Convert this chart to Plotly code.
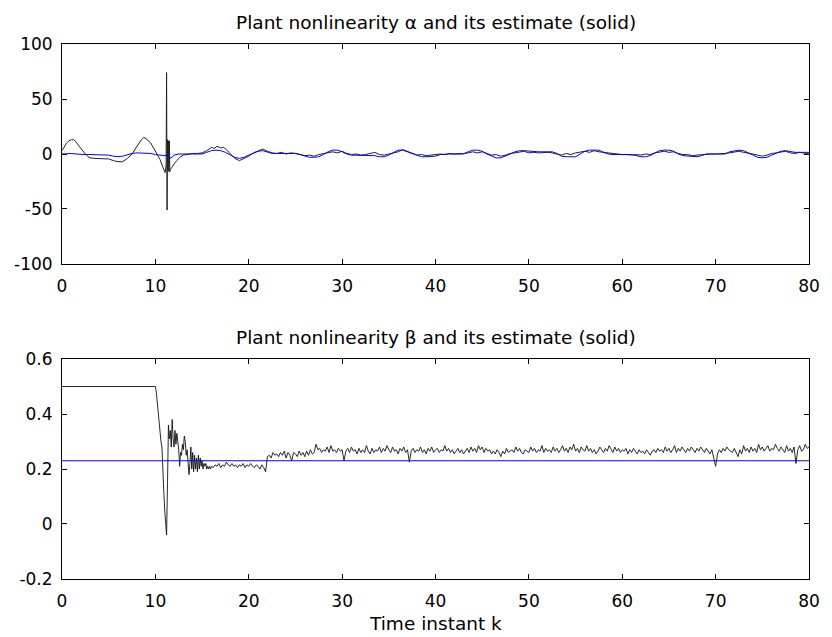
import plotly.graph_objects as go
from plotly.subplots import make_subplots

# ---------------- top panel: alpha ----------------
k_alpha_est = [0, 0.5, 1, 1.5, 2, 2.5, 3, 3.5, 4, 4.5, 5, 5.5, 6, 6.5, 7, 7.5, 8, 8.5, 9, 9.5,
               10, 10.5, 11, 11.3, 11.5, 11.8, 12, 12.5, 13, 13.5, 14, 14.5, 15, 15.5, 16, 16.5,
               17, 17.5, 18, 18.5, 19, 19.5, 20, 20.5, 21, 21.5,
               22, 22.5, 23, 23.5, 24, 24.5, 25, 25.5, 26, 26.5, 27, 27.5, 28, 28.5, 29, 29.5,
               30, 30.5, 31, 31.5, 32, 32.5, 33, 33.5, 34, 34.5, 35, 35.5, 36, 36.5, 37, 37.5,
               38, 38.5, 39, 39.5, 40, 40.5, 41, 41.5, 42, 42.5, 43, 43.5, 44, 44.5, 45, 45.5,
               46, 46.5, 47, 47.5, 48, 48.5, 49, 49.5, 50, 50.5, 51, 51.5, 52, 52.5, 53, 53.5,
               54, 54.5, 55, 55.5, 56, 56.5, 57, 57.5, 58, 58.5, 59, 59.5, 60, 60.5, 61, 61.5,
               62, 62.5, 63, 63.5, 64, 64.5, 65, 65.5, 66, 66.5, 67, 67.5, 68, 68.5, 69, 69.5,
               70, 70.5, 71, 71.5, 72, 72.5, 73, 73.5, 74, 74.5, 75, 75.5, 76, 76.5, 77, 77.5,
               78, 78.5, 79, 79.5, 80]
alpha_est = [0, 0.5, 0.5, 0, -0.5, -0.5, -0.5, -0.5, -0.5, -0.5, -1, -2, -2.5, -2, -0.5, 0.5, 1, 1, 1, 0.5,
             -0.5, -1, -1.5, -1, -4, -3, -1, 0, 0, 0, 0, 0, 0, 1.5, 3, 3.5,
             3, 1.5, -1, -3, -4, -3, -1, 1, 2.5, 3,
             1.5, 0.5, 0.5, 0.5, 0.5, 0.5, 0.5, -0.5, -2, -3, -3, -2.5, -0.5, 2, 3.5, 3.5,
             2, 0, -1, -1, -1, -1, -1, -1.5, -2.5, -2.5, -1, 1.5, 3.5, 3.5, 2, 0,
             -1.5, -2.5, -2.5, -2.5, -2, -0.5, 0, 0, 0, 0, 0, 2, 3.5, 3.5, 2.5, 0,
             -2, -3.5, -3.5, -2, 0, 2, 3, 3, 2.5, 2, 2, 2, 2, 2, 0.5, -2,
             -2.5, -2.5, -2.5, 0, 2.5, 3.5, 3.5, 3.5, 1.5, 0, -0.5, -0.5, -0.5, -0.5, -0.5, -1.5,
             -2.5, -2.5, -1.5, 1, 3, 3.5, 3.5, 2.5, 0, -1.5, -2, -2.5, -2.5, -1.5, 0, 0,
             0, 0, 0, 2, 3, 3.5, 3, 1, -1, -3, -3.5, -3, -1, 1, 2.5, 3,
             2, 1.5, 1.5, 1.5, 1.5]

k_alpha = [0, 0.25, 0.5, 0.75, 1, 1.25, 1.5, 1.75, 2, 2.25, 2.5, 2.75, 3, 3.5, 4, 4.5, 5, 5.5, 6, 6.5,
           7, 7.5, 8, 8.5, 8.75, 9, 9.5, 10, 10.5, 10.8, 11.05, 11.15, 11.2, 11.25, 11.3, 11.35, 11.4,
           11.45, 11.5, 11.55, 11.6, 11.8, 12, 12.3, 12.6, 13, 13.5, 14, 14.5, 15, 15.5, 16, 16.3,
           16.6, 17, 17.3, 17.6, 18, 18.5, 19, 19.3, 19.6, 20, 20.5, 21, 21.5,
           22, 22.5, 23, 23.5, 24, 24.5, 25, 25.5, 26, 26.5, 27, 27.5, 28, 28.5, 29, 29.5,
           30, 30.5, 31, 31.5, 32, 32.5, 33, 33.5, 34, 34.5, 35, 35.5, 36, 36.5, 37, 37.5,
           38, 38.5, 39, 39.5, 40, 40.5, 41, 41.5, 42, 42.5, 43, 43.5, 44, 44.5, 45, 45.5,
           46, 46.5, 47, 47.5, 48, 48.5, 49, 49.5, 50, 50.5, 51, 51.5, 52, 52.5, 53, 53.5,
           54, 54.5, 55, 55.5, 56, 56.5, 57, 57.5, 58, 58.5, 59, 59.5, 60, 60.5, 61, 61.5,
           62, 62.5, 63, 63.5, 64, 64.5, 65, 65.5, 66, 66.5, 67, 67.5, 68, 68.5, 69, 69.5,
           70, 70.5, 71, 71.5, 72, 72.5, 73, 73.5, 74, 74.5, 75, 75.5, 76, 76.5, 77, 77.5,
           78, 78.5, 79, 79.5, 80]
alpha = [3, 7, 10, 12, 13, 13, 11, 8, 5, 2, 0, -2, -3.5, -4, -4, -4, -4.5, -6, -7, -7,
         -4, 0, 7, 13, 15, 14, 10, 3, -5, -12, -17, -10, 74, -51, 13, -15, 12,
         -16, 12, -16, -14, -12, -9, -6, -3, -1, 0, 0.5, 0.5, 1, 3, 6, 5,
         7, 5.5, 6, 4, 0, -4, -6, -5, -4, -2, 1, 3, 4.5,
         2.5, 1, 0.5, 1.5, 0, 1, 0.5, -0.5, -1.5, -1, -2, -0.5, 0.5, 1, 2, 1,
         2.5, 0.5, -0.5, 0, -1, -0.5, 0.5, 1.5, -0.5, -1, 0, 1, 2, 4, 2.5, 0.5,
         -1, -0.5, -1.5, -1, -0.5, 0, -0.5, 0.5, 0, 0, 0.5, 1, 2, 1, 2, 0.5,
         -1, -0.5, -2, -1, 0.5, 1, 1.5, 2.5, 1, 1.5, 1, 1.5, 1.5, 1, 0, -1,
         0.5, -0.5, 1, 1.5, 2.5, 1.5, 3, 2, 1.5, 0.5, 0, -0.5, -0.5, -0.5, -1, -0.5,
         -1, 0, -0.5, 1, 2, 2.5, 1.5, 2, 0.5, -0.5, -0.5, -1.5, -1, -0.5, 0, 0,
         0, 0, 0.5, 1, 1.5, 2.5, 1.5, 1, 0, -1, -2, -1, 0.5, 1, 1.5, 2.5,
         1, 0.5, 1.5, 0.5, 0]

# ---------------- bottom panel: beta ----------------
k_beta_est = [0, 80]
beta_est = [0.23, 0.23]

k_beta_a = [0, 10.0, 10.1, 10.2, 10.3, 10.4, 10.5, 10.6, 10.7, 10.8, 10.9, 11.0, 11.1, 11.2, 11.3,
            11.4, 11.5, 11.6, 11.7, 11.8, 11.9, 12.0, 12.1, 12.2, 12.3, 12.4, 12.5, 12.6, 12.7,
            12.8, 12.9, 13.0, 13.1, 13.2, 13.3, 13.4, 13.5, 13.6, 13.7, 13.8, 13.9, 14.0, 14.1,
            14.2, 14.3, 14.4, 14.5, 14.6, 14.7, 14.8, 14.9, 15.0, 15.1, 15.2, 15.3, 15.4, 15.5,
            15.6, 15.7, 15.8, 15.9]
beta_a = [0.5, 0.5, 0.48, 0.44, 0.40, 0.36, 0.33, 0.30, 0.28, 0.22, 0.12, 0.05, -0.01, -0.04, 0.15,
          0.36, 0.31, 0.34, 0.28, 0.38, 0.31, 0.28, 0.34, 0.29, 0.33, 0.30, 0.27, 0.21, 0.26,
          0.25, 0.29, 0.27, 0.32, 0.30, 0.25, 0.27, 0.23, 0.18, 0.22, 0.28, 0.20, 0.26, 0.19,
          0.25, 0.20, 0.24, 0.19, 0.25, 0.20, 0.24, 0.21, 0.23, 0.20, 0.22, 0.21, 0.22, 0.20,
          0.21, 0.20, 0.21, 0.20]

# steady part sampled every 0.2 from k = 16.0 to 80.0
beta_b = [0.21, 0.205, 0.215, 0.21, 0.22, 0.205, 0.215, 0.21, 0.225, 0.215,
          0.21, 0.22, 0.21, 0.215, 0.205, 0.215, 0.21, 0.22, 0.205, 0.215,
          0.21, 0.22, 0.21, 0.205, 0.215, 0.21, 0.20, 0.215, 0.205, 0.19,
          0.245,
          0.25, 0.24, 0.26, 0.25, 0.255, 0.245, 0.26, 0.25, 0.265, 0.24,
          0.26, 0.25, 0.23, 0.26, 0.255, 0.245, 0.265, 0.25, 0.26, 0.245,
          0.265, 0.25, 0.27, 0.255, 0.26, 0.29, 0.27, 0.275, 0.26, 0.27,
          0.265, 0.28, 0.26, 0.285, 0.265, 0.27, 0.26, 0.275, 0.265, 0.27,
          0.23, 0.265, 0.275, 0.26, 0.28, 0.265, 0.27, 0.255, 0.275, 0.26,
          0.27, 0.26, 0.285, 0.265, 0.255, 0.275, 0.26, 0.27, 0.265, 0.28,
          0.26, 0.275, 0.265, 0.285, 0.27, 0.26, 0.28, 0.265, 0.27, 0.255,
          0.275, 0.265, 0.28, 0.26, 0.27, 0.225, 0.265, 0.275, 0.26, 0.27,
          0.265, 0.28, 0.26, 0.27, 0.255, 0.275, 0.265, 0.28, 0.26, 0.27,
          0.275, 0.26, 0.27, 0.265, 0.285, 0.265, 0.275, 0.26, 0.27, 0.255,
          0.265, 0.275, 0.26, 0.27, 0.255, 0.265, 0.275, 0.26, 0.28, 0.265,
          0.275, 0.26, 0.285, 0.27, 0.28, 0.26, 0.275, 0.265, 0.27, 0.255,
          0.265, 0.255, 0.27, 0.26, 0.245, 0.265, 0.255, 0.275, 0.26, 0.265,
          0.27, 0.26, 0.28, 0.265, 0.275, 0.26, 0.255, 0.27, 0.265, 0.26,
          0.28, 0.265, 0.275, 0.26, 0.27, 0.265, 0.285, 0.26, 0.275, 0.265,
          0.27, 0.26, 0.28, 0.265, 0.275, 0.26, 0.27, 0.285, 0.265, 0.275,
          0.26, 0.28, 0.27, 0.29, 0.265, 0.275, 0.26, 0.28, 0.27, 0.265,
          0.285, 0.265, 0.275, 0.26, 0.27, 0.255, 0.265, 0.28, 0.27, 0.26,
          0.275, 0.265, 0.285, 0.27, 0.26, 0.28, 0.265, 0.275, 0.26, 0.27,
          0.265, 0.275, 0.255, 0.27, 0.26, 0.275, 0.265, 0.255, 0.27, 0.26,
          0.265, 0.255, 0.27, 0.26, 0.25, 0.265, 0.27, 0.26, 0.275, 0.265,
          0.27, 0.26, 0.28, 0.265, 0.275, 0.26, 0.27, 0.285, 0.26, 0.275,
          0.265, 0.28, 0.27, 0.26, 0.275, 0.265, 0.28, 0.27, 0.26, 0.275,
          0.265, 0.28, 0.27, 0.26, 0.275, 0.265, 0.255, 0.27, 0.24, 0.21,
          0.255, 0.27, 0.26, 0.275, 0.265, 0.28, 0.27, 0.265, 0.26, 0.275,
          0.26, 0.245, 0.27, 0.255, 0.285, 0.265, 0.275, 0.26, 0.28, 0.265,
          0.275, 0.26, 0.29, 0.27, 0.28, 0.265, 0.275, 0.285, 0.265, 0.275,
          0.27, 0.29, 0.275, 0.265, 0.28, 0.27, 0.26, 0.285, 0.265, 0.275,
          0.26, 0.28, 0.22, 0.27, 0.285, 0.265, 0.27, 0.29, 0.275, 0.28]
k_beta_b = [round(16.0 + 0.2 * i, 1) for i in range(len(beta_b))]

k_beta = k_beta_a + k_beta_b
beta = beta_a + beta_b

x_ticks = [0, 10, 20, 30, 40, 50, 60, 70, 80]
y1_ticks = [-100, -50, 0, 50, 100]
y1_labels = ["-100", "-50", "0", "50", "100"]
y2_ticks = [-0.2, 0, 0.2, 0.4, 0.6]
y2_labels = ["-0.2", "0", "0.2", "0.4", "0.6"]

title_top = "Plant nonlinearity \u03b1 and its estimate (solid)"
title_bot = "Plant nonlinearity \u03b2 and its estimate (solid)"
x_label = "Time instant k"

FONT = "DejaVu Sans, sans-serif"
TICK_SIZE = 17
TEXT_SIZE = 18.5

fig = make_subplots(rows=2, cols=1, vertical_spacing=0.0)

fig.add_trace(go.Scatter(x=k_alpha, y=alpha, mode="lines",
                         line=dict(color="#222222", width=1)), row=1, col=1)
fig.add_trace(go.Scatter(x=k_alpha_est, y=alpha_est, mode="lines",
                         line=dict(color="#0000ff", width=1)), row=1, col=1)
fig.add_trace(go.Scatter(x=k_beta, y=beta, mode="lines",
                         line=dict(color="#111111", width=0.9)), row=2, col=1)
fig.add_trace(go.Scatter(x=k_beta_est, y=beta_est, mode="lines",
                         line=dict(color="#0000ff", width=1)), row=2, col=1)

axis_common = dict(showline=True, linecolor="black", linewidth=1, mirror="ticks",
                   ticks="inside", ticklen=5, tickcolor="black", showgrid=False,
                   zeroline=False, tickfont=dict(family=FONT, size=TICK_SIZE, color="black"))

fig.update_xaxes(range=[0, 80], tickvals=x_ticks, ticktext=[str(v) for v in x_ticks],
                 ticklabelstandoff=7, **axis_common)
fig.update_yaxes(row=1, col=1, range=[-100, 100], tickvals=y1_ticks, ticktext=y1_labels,
                 domain=[0.5888, 1.0], ticklabelstandoff=5, **axis_common)
fig.update_yaxes(row=2, col=1, range=[-0.2, 0.6], tickvals=y2_ticks, ticktext=y2_labels,
                 domain=[0.0, 0.4112], ticklabelstandoff=5, **axis_common)

fig.update_layout(
    width=832, height=637,
    margin=dict(l=62, r=15, t=44, b=58),
    paper_bgcolor="white", plot_bgcolor="white",
    showlegend=False,
    font=dict(family=FONT, size=TEXT_SIZE, color="black"),
    annotations=[
        dict(text=title_top, x=0.5, y=1.0, xref="paper", yref="paper",
             xanchor="center", yanchor="bottom", yshift=9, showarrow=False,
             font=dict(family=FONT, size=TEXT_SIZE, color="black")),
        dict(text=title_bot, x=0.5, y=0.4112, xref="paper", yref="paper",
             xanchor="center", yanchor="bottom", yshift=9, showarrow=False,
             font=dict(family=FONT, size=TEXT_SIZE, color="black")),
        dict(text=x_label, x=0.5, y=0.0, xref="paper", yref="paper",
             xanchor="center", yanchor="top", yshift=-32, showarrow=False,
             font=dict(family=FONT, size=TEXT_SIZE, color="black")),
    ],
)

fig.write_html("out.html")
